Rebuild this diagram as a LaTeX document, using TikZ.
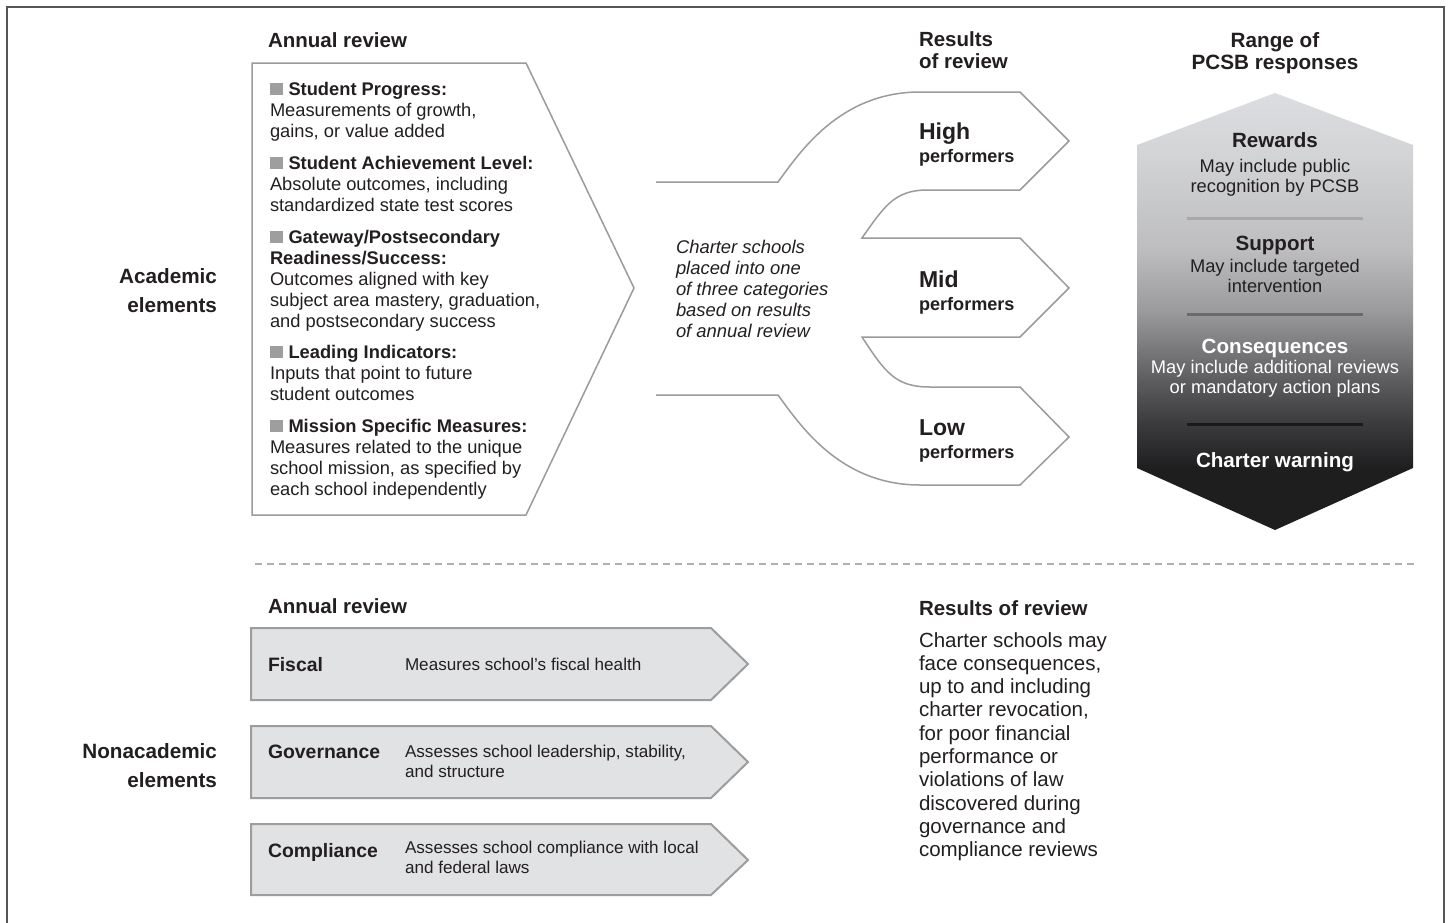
\documentclass[tikz,border=0pt]{standalone}
\usepackage{fontspec}
\setmainfont{Liberation Sans}
\definecolor{txt}{HTML}{231F20}
\definecolor{edge}{HTML}{9B9B9B}
\definecolor{boxfill}{HTML}{E1E2E4}
\definecolor{boxedge}{HTML}{9D9D9D}
\definecolor{bul}{HTML}{9E9E9E}
\definecolor{framec}{HTML}{555555}
\definecolor{dashc}{HTML}{B0B0B0}
\definecolor{sepA}{HTML}{A8A8AA}
\definecolor{sepB}{HTML}{6A6A6C}
\definecolor{sepC}{HTML}{1A1A1A}
\definecolor{hexA}{HTML}{DCDDE0}
\definecolor{hexB}{HTML}{D3D4D6}
\definecolor{hexC}{HTML}{BDBDBF}
\definecolor{hexD}{HTML}{9A9A9C}
\definecolor{hexE}{HTML}{5C5C5E}
\definecolor{hexF}{HTML}{3A3A3C}
\definecolor{hexG}{HTML}{1E1E1F}
\pgfdeclareverticalshading{hexshade}{100bp}{color(0bp)=(hexG); color(25bp)=(hexG); color(32bp)=(hexG); color(37bp)=(hexF); color(42bp)=(hexE); color(50bp)=(hexD); color(57bp)=(hexC); color(68bp)=(hexB); color(75bp)=(hexA); color(100bp)=(hexA)}
\newcommand{\bulsq}{{\color{bul}\rule{12.5pt}{12pt}}\hspace{6pt}}
\tikzset{
  tb/.style={inner sep=0pt, outer sep=0pt, text=txt},
  hdr/.style={tb, anchor=base west, align=left, font=\fontsize{20.5}{21.5}\selectfont\bfseries},
  side/.style={tb, anchor=base east, align=right, font=\fontsize{20.7}{29}\selectfont\bfseries},
  pent/.style={tb, anchor=base west, align=left, font=\fontsize{18.3}{21.1}\selectfont},
  ital/.style={tb, anchor=base west, align=left, font=\fontsize{18.4}{21}\selectfont\itshape},
  big/.style={tb, anchor=base west, font=\fontsize{23}{23}\selectfont\bfseries},
  perf/.style={tb, anchor=base west, font=\fontsize{18.1}{18}\selectfont\bfseries},
  hexh/.style={tb, anchor=base, font=\fontsize{20.6}{21}\selectfont\bfseries},
  hexb/.style={tb, anchor=base, align=center, font=\fontsize{18.3}{20.6}\selectfont},
  blab/.style={tb, anchor=base west, font=\fontsize{19.4}{20}\selectfont\bfseries},
  bdesc/.style={tb, anchor=base west, align=left, font=\fontsize{17.1}{20.2}\selectfont},
  para/.style={tb, anchor=base west, align=left, font=\fontsize{20.5}{23.3}\selectfont},
  outline/.style={draw=edge, line width=1.5pt, line join=miter},
  bbox/.style={draw=boxedge, fill=boxfill, line width=2pt},
  sep/.style={line width=3pt},
}
\begin{document}
\begin{tikzpicture}[x=1pt,y=-1pt]
\useasboundingbox (0,0) rectangle (1449,922);
\fill[white] (0,0) rectangle (1449,922);
% frame
\draw[framec, line width=2.5pt] (7,940) -- (7,7) -- (1444,7) -- (1444,940);

% headers (multi-line nodes are placed by the baseline of their last line)
\node[hdr] (hAnn) at (268,47) {Annual review};
\node[hdr] (hRes) at (919,68) {Results\\of review};
\node[tb, anchor=base, align=center, font=\fontsize{20.7}{22}\selectfont\bfseries] (hRange) at (1275,69) {Range of\\PCSB responses};

% side labels
\node[side] (acad) at (217,312) {Academic\\elements};
\node[side] (nonacad) at (217,787) {Nonacademic\\elements};

% pentagon
\draw[outline, fill=white] (252,63) -- (526,63) -- (634,288) -- (526,515) -- (252,515) -- cycle;
\node[pent] (p1) at (270,137.2) {\bulsq\textbf{Student Progress:}\\Measurements of growth,\\gains, or value added};
\node[pent] (p2) at (270,211.2) {\bulsq\textbf{Student Achievement Level:}\\Absolute outcomes, including\\standardized state test scores};
\node[pent] (p3) at (270,327.4) {\bulsq\textbf{Gateway/Postsecondary}\\\textbf{Readiness/Success:}\\Outcomes aligned with key\\subject area mastery, graduation,\\and postsecondary success};
\node[pent] (p4) at (270,400.2) {\bulsq\textbf{Leading Indicators:}\\Inputs that point to future\\student outcomes};
\node[pent] (p5) at (270,495.3) {\bulsq\textbf{Mission Specific Measures:}\\Measures related to the unique\\school mission, as specified by\\each school independently};

% flow outline
\draw[outline] (656,182) -- (778,182)
  .. controls (800,152) and (840,92) .. (920,92)
  -- (1020,92) -- (1069,141) -- (1020,190) -- (925,190)
  .. controls (895,191) and (885,205) .. (862,238)
  -- (1020,238) -- (1069,288) -- (1020,337) -- (862,337)
  .. controls (885,372) and (895,387) .. (930,387)
  -- (1020,387) -- (1069,437) -- (1020,485) -- (920,485)
  .. controls (840,485) and (800,425) .. (778,395)
  -- (656,395);
\node[ital] (cat) at (676,337) {Charter schools\\placed into one\\of three categories\\based on results\\of annual review};
\node[big] (hiA) at (919,139) {High};
\node[perf] (hiB) at (919,162) {performers};
\node[big] (miA) at (919,287) {Mid};
\node[perf] (miB) at (919,310) {performers};
\node[big] (loA) at (919,435) {Low};
\node[perf] (loB) at (919,458) {performers};

% hexagon
\shade[shading=hexshade] (1275,93) -- (1413,145) -- (1413,468) -- (1275,530) -- (1137,468) -- (1137,145) -- cycle;
\draw[sep, sepA] (1187,218) -- (1363,218);
\draw[sep, sepB] (1187,314) -- (1363,314);
\draw[sep, sepC] (1187,424) -- (1363,424);
\node[hexh] (rewH) at (1275,147) {Rewards};
\node[hexb] (rewB) at (1275,192.6) {May include public\\recognition by PCSB};
\node[hexh] (supH) at (1275,250) {Support};
\node[hexb] (supB) at (1275,292.6) {May include targeted\\intervention};
\node[hexh, text=white] (conH) at (1275,353) {Consequences};
\node[hexb, text=white] (conB) at (1275,393.6) {May include additional reviews\\or mandatory action plans};
\node[hexh, text=white] (warn) at (1275,467) {Charter warning};

% dashed divider
\draw[dashc, line width=2pt, dash pattern=on 7pt off 5pt] (255,564) -- (1415,564);

% nonacademic
\node[hdr] (hAnn2) at (268,613) {Annual review};
\draw[bbox] (251,628) -- (711,628) -- (748,664) -- (711,700) -- (251,700) -- cycle;
\draw[bbox] (251,726) -- (711,726) -- (748,762) -- (711,798) -- (251,798) -- cycle;
\draw[bbox] (251,824) -- (711,824) -- (748,860) -- (711,895) -- (251,895) -- cycle;
\node[blab] (fis) at (268,671) {Fiscal};
\node[bdesc] (fisD) at (405,670) {Measures school's fiscal health};
\node[blab] (gov) at (268,758) {Governance};
\node[bdesc] (govD) at (405,777.2) {Assesses school leadership, stability,\\and structure};
\node[blab] (com) at (268,857) {Compliance};
\node[bdesc] (comD) at (405,873.2) {Assesses school compliance with local\\and federal laws};

\node[hdr] (hRes2) at (919,615) {Results of review};
\node[para] (resP) at (919,856.7) {Charter schools may\\face consequences,\\up to and including\\charter revocation,\\for poor financial\\performance or\\violations of law\\discovered during\\governance and\\compliance reviews};
\end{tikzpicture}
\end{document}
